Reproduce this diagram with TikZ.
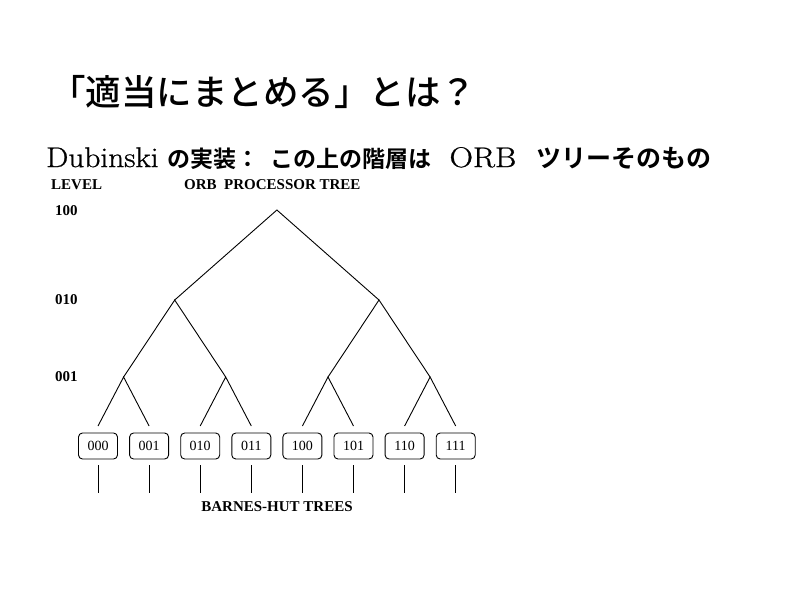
\documentclass[tikz,border=0pt]{standalone}
\usepackage{fontspec}
\newfontfamily\jpm{Noto Sans CJK JP Medium}
\newfontfamily\jpb{Noto Sans CJK JP Bold}
\newfontfamily\tms{Liberation Serif}
\newfontfamily\lmheavy{Latin Modern Roman}[FakeBold=0.8]
\begin{document}
\begin{tikzpicture}[x=1pt,y=-1pt,
  tline/.style={line width=0.9pt,black},
  leafbox/.style={draw,line width=0.9pt,rounded corners=4pt,minimum width=39pt,minimum height=26pt,inner sep=0pt,font=\tms\fontsize{14}{15}\selectfont},
  lbl/.style={inner sep=0pt,font=\tms\bfseries\fontsize{15}{17}\selectfont}]
\useasboundingbox[fill=white] (0,0) rectangle (800,600);
% title
\node[anchor=west,inner sep=0pt] (title) at (50,92) {\jpm\fontsize{35.5}{40}\selectfont 「適当にまとめる」とは？};
% subtitle
\node[anchor=west,inner sep=0pt] (sub) at (46,158) {\lmheavy\fontsize{28.5}{30}\selectfont \scalebox{1.1}[1]{Dubinski}\hspace{9pt}{\jpb\fontsize{23}{26}\selectfont の実装：\hspace{11pt}この上の階層は}\hspace{18pt}\scalebox{1.14}[1]{ORB}\hspace{20pt}{\jpb\fontsize{25}{26}\selectfont ツリーそのもの}};
% labels
\node[lbl,anchor=west] (level) at (51,185) {LEVEL};
\node[lbl,anchor=west] (orb) at (184,185) {ORB\ \ PROCESSOR TREE};
\node[lbl,anchor=west] (l100) at (55,211) {100};
\node[lbl,anchor=west] (l010) at (55,300) {010};
\node[lbl,anchor=west] (l001) at (55,377) {001};
\node[lbl] (bh) at (277,507) {BARNES-HUT TREES};
% tree nodes
\coordinate (r) at (276.9,210);
\coordinate (a) at (174.7,300);
\coordinate (b) at (379,300);
\coordinate (c0) at (123.6,377);
\coordinate (c1) at (225.7,377);
\coordinate (c2) at (328,377);
\coordinate (c3) at (430.1,377);
\foreach \i/\t in {0/000,1/001,2/010,3/011,4/100,5/101,6/110,7/111}{
  \pgfmathsetmacro{\xx}{98+51.1*\i}
  \node[leafbox] (k\i) at (\xx,446) {\t};
  \coordinate (t\i) at (\xx,426);
  \coordinate (u\i) at (\xx,465);
  \coordinate (v\i) at (\xx,493);
  \draw[tline] (u\i) -- (v\i);
}
\draw[tline] (a) -- (r) -- (b);
\draw[tline] (c0) -- (a) -- (c1);
\draw[tline] (c2) -- (b) -- (c3);
\draw[tline] (t0) -- (c0) -- (t1);
\draw[tline] (t2) -- (c1) -- (t3);
\draw[tline] (t4) -- (c2) -- (t5);
\draw[tline] (t6) -- (c3) -- (t7);
\end{tikzpicture}
\end{document}
